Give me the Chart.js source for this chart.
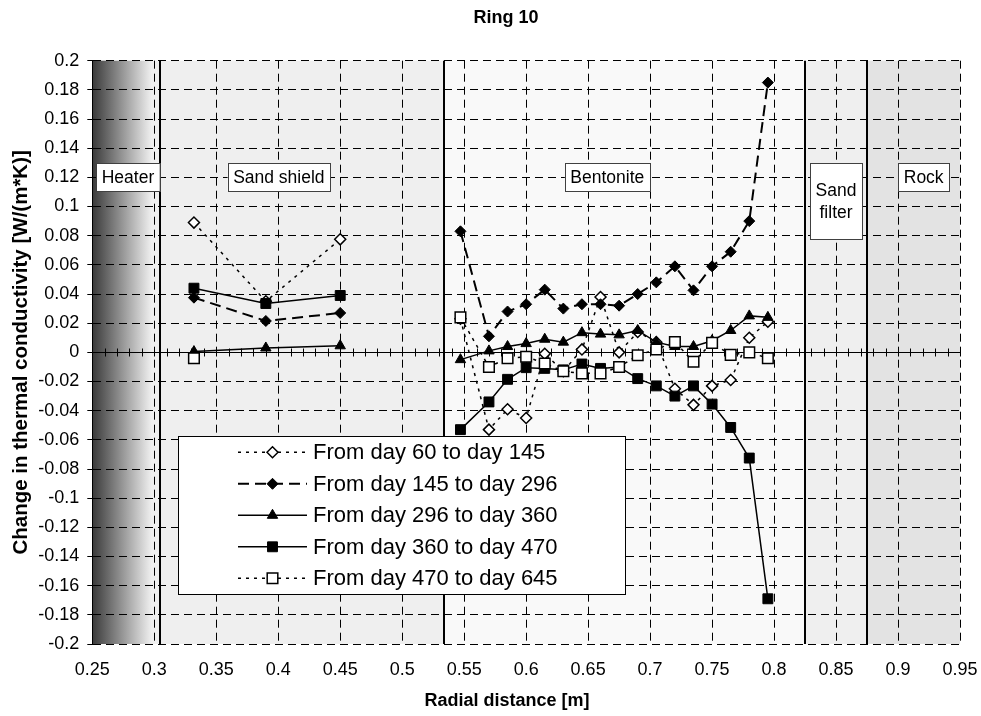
<!DOCTYPE html>
<html>
<head>
<meta charset="utf-8">
<title>Ring 10</title>
<script src="https://cdn.jsdelivr.net/npm/chart.js@4.4.1/dist/chart.umd.min.js"></script>
<style>
html,body{margin:0;padding:0;background:#ffffff;}
#wrap{width:981px;height:716px;}
canvas{display:block;}
</style>
</head>
<body>
<div id="wrap"><canvas id="chart" width="981" height="716"></canvas></div>
<script>
// ---------- Axis ticks ----------
const xTickValues = [0.25, 0.30, 0.35, 0.40, 0.45, 0.50, 0.55, 0.60, 0.65, 0.70, 0.75, 0.80, 0.85, 0.90, 0.95];
const xTickLabels = ['0.25', '0.3', '0.35', '0.4', '0.45', '0.5', '0.55', '0.6', '0.65', '0.7', '0.75', '0.8', '0.85', '0.9', '0.95'];
const yTickValues = [0.2, 0.18, 0.16, 0.14, 0.12, 0.1, 0.08, 0.06, 0.04, 0.02, 0, -0.02, -0.04, -0.06, -0.08, -0.1, -0.12, -0.14, -0.16, -0.18, -0.2];
const yTickLabels = ['0.2', '0.18', '0.16', '0.14', '0.12', '0.1', '0.08', '0.06', '0.04', '0.02', '0', '-0.02', '-0.04', '-0.06', '-0.08', '-0.1', '-0.12', '-0.14', '-0.16', '-0.18', '-0.2'];

// ---------- Titles ----------
const chartTitle = 'Ring 10';
const xAxisTitle = 'Radial distance [m]';
const yAxisTitle = 'Change in thermal conductivity [W/(m*K)]';

// ---------- Material zones (radial boundaries, m) ----------
const zoneNames = ['Heater', 'Sand shield', 'Bentonite', ['Sand', 'filter'], 'Rock'];
const zoneEdges = [0.25, 0.305, 0.534, 0.825, 0.875, 0.95];

// ---------- Measurement radii (m) ----------
const sandShieldX = [0.332, 0.39, 0.45];
const bentoniteX = [0.547, 0.57, 0.585, 0.60, 0.615, 0.63, 0.645, 0.66, 0.675, 0.69, 0.705, 0.72, 0.735, 0.75, 0.765, 0.78, 0.795];

// ---------- Series ----------
const seriesLabels = ['From day 60 to day 145', 'From day 145 to day 296', 'From day 296 to day 360', 'From day 360 to day 470', 'From day 470 to day 645'];

const day60to145Sand = [0.089, 0.035, 0.0775];
const day60to145Bentonite = [0.023, -0.053, -0.039, -0.045, -0.001, -0.013, 0.002, 0.038, 0.000, 0.014, 0.007, -0.025, -0.036, -0.023, -0.019, 0.010, 0.021];

const day145to296Sand = [0.0375, 0.0215, 0.027];
const day145to296Bentonite = [0.083, 0.011, 0.028, 0.033, 0.043, 0.030, 0.033, 0.033, 0.032, 0.040, 0.048, 0.059, 0.0425, 0.059, 0.069, 0.090, 0.185];

const day296to360Sand = [0.0005, 0.003, 0.0045];
const day296to360Bentonite = [-0.005, 0.001, 0.004, 0.006, 0.009, 0.007, 0.0135, 0.0125, 0.012, 0.015, 0.007, 0.004, 0.004, 0.008, 0.015, 0.025, 0.024];

const day360to470Sand = [0.044, 0.0335, 0.039];
const day360to470Bentonite = [-0.053, -0.034, -0.0185, -0.0105, -0.011, -0.012, -0.008, -0.011, -0.010, -0.018, -0.023, -0.030, -0.023, -0.0355, -0.0515, -0.0725, -0.169];

const day470to645Sand = [-0.004, null, null];
const day470to645Bentonite = [0.024, -0.010, -0.004, -0.003, -0.0076, -0.013, -0.0144, -0.0144, -0.010, -0.002, 0.002, 0.007, -0.0064, 0.0065, -0.0017, 0.000, -0.004];

function buildPoints(sandVals, bentVals) {
  const pts = sandShieldX.map((x, i) => ({x: x, y: sandVals[i]}));
  pts.push({x: (sandShieldX[sandShieldX.length - 1] + bentoniteX[0]) / 2, y: null}); // gap between materials
  bentoniteX.forEach((x, i) => pts.push({x: x, y: bentVals[i]}));
  return pts;
}

const FONT = '"Liberation Sans", Arial, Helvetica, sans-serif';

function drawMarker(ctx, style, r, x, y, fill, stroke, bw) {
  ctx.beginPath();
  if (style === 'rectRot') {
    ctx.moveTo(x - r, y); ctx.lineTo(x, y - r); ctx.lineTo(x + r, y); ctx.lineTo(x, y + r); ctx.closePath();
  } else if (style === 'rect') {
    const s = r * Math.SQRT1_2;
    ctx.rect(x - s, y - s, 2 * s, 2 * s);
  } else if (style === 'triangle') {
    let rad = 0;
    ctx.moveTo(x + Math.sin(rad) * r, y - Math.cos(rad) * r);
    rad += 2 * Math.PI / 3;
    ctx.lineTo(x + Math.sin(rad) * r, y - Math.cos(rad) * r);
    rad += 2 * Math.PI / 3;
    ctx.lineTo(x + Math.sin(rad) * r, y - Math.cos(rad) * r);
    ctx.closePath();
  } else {
    ctx.arc(x, y, r, 0, Math.PI * 2);
  }
  ctx.fillStyle = fill; ctx.fill();
  ctx.lineWidth = bw; ctx.strokeStyle = stroke; ctx.setLineDash([]); ctx.stroke();
}

// ---------- Plugins ----------
const zonePlugin = {
  id: 'zones',
  beforeDraw(chart, args, opts) {
    const {ctx, chartArea: a, scales: {x}} = chart;
    ctx.save();
    for (let i = 0; i < zoneNames.length; i++) {
      const x0 = x.getPixelForValue(zoneEdges[i]);
      const x1 = x.getPixelForValue(zoneEdges[i + 1]);
      let fill = opts.fills[i];
      if (fill === 'gradient') {
        const g = ctx.createLinearGradient(x0, 0, x.getPixelForValue(opts.gradientEnd), 0);
        g.addColorStop(0, opts.gradientFrom);
        g.addColorStop(1, opts.gradientTo);
        ctx.fillStyle = opts.gradientTo;
        ctx.fillRect(x0, a.top, x1 - x0, a.bottom - a.top);
        fill = g;
      }
      ctx.fillStyle = fill;
      ctx.fillRect(x0, a.top, x1 - x0, a.bottom - a.top);
    }
    ctx.restore();
  },
  beforeDatasetsDraw(chart, args, opts) {
    const {ctx, chartArea: a, scales: {x, y}} = chart;
    ctx.save();
    // zero axis with cross ticks
    const y0 = Math.round(y.getPixelForValue(0)) + 0.5;
    ctx.strokeStyle = '#000'; ctx.lineWidth = 1; ctx.setLineDash([]);
    ctx.beginPath(); ctx.moveTo(a.left, y0); ctx.lineTo(a.right, y0); ctx.stroke();
    ctx.beginPath();
    for (let k = 0; k <= 70; k++) {
      const v = x.min + k * opts.minorStep;
      const px = Math.round(x.getPixelForValue(v)) + 0.5;
      ctx.moveTo(px, y0 - opts.tickHalf); ctx.lineTo(px, y0 + opts.tickHalf);
    }
    ctx.stroke();
    // zone boundaries
    ctx.lineWidth = 2;
    for (let i = 1; i < zoneEdges.length - 1; i++) {
      const px = Math.round(x.getPixelForValue(zoneEdges[i]));
      ctx.beginPath(); ctx.moveTo(px, a.top); ctx.lineTo(px, a.bottom); ctx.stroke();
    }
    // zone labels
    ctx.font = opts.labelFont;
    ctx.textAlign = 'center'; ctx.textBaseline = 'middle';
    const top = y.getPixelForValue(opts.labelY) - 14;
    for (let i = 0; i < zoneNames.length; i++) {
      const lines = Array.isArray(zoneNames[i]) ? zoneNames[i] : [zoneNames[i]];
      const w = Math.max(...lines.map(t => ctx.measureText(t).width)) + 11;
      const h = lines.length > 1 ? 76 : 27.7;
      const cx = x.getPixelForValue(opts.labelX[i]);
      ctx.fillStyle = '#fff';
      ctx.fillRect(cx - w / 2, top, w, h);
      ctx.lineWidth = 1; ctx.strokeStyle = '#404040';
      ctx.strokeRect(Math.round(cx - w / 2) + 0.5, Math.round(top) + 0.5, Math.round(w), Math.round(h));
      ctx.fillStyle = '#000';
      lines.forEach((t, j) => {
        const cy = top + h / 2 + (j - (lines.length - 1) / 2) * 22;
        ctx.fillText(t, cx, cy + 1);
      });
    }
    ctx.restore();
  }
};

const legendPlugin = {
  id: 'refLegend',
  afterDatasetsDraw(chart, args, o) {
    const ctx = chart.ctx;
    ctx.save();
    ctx.fillStyle = '#fff';
    ctx.fillRect(o.left, o.top, o.width, o.height);
    ctx.strokeStyle = '#000'; ctx.lineWidth = 1; ctx.setLineDash([]);
    ctx.strokeRect(o.left + 0.5, o.top + 0.5, o.width, o.height);
    chart.data.datasets.forEach((ds, i) => {
      const yy = o.firstRowY + i * o.rowGap;
      ctx.strokeStyle = ds.borderColor; ctx.lineWidth = ds.borderWidth;
      ctx.setLineDash(ds.borderDash || []);
      ctx.beginPath(); ctx.moveTo(o.lineX0, yy); ctx.lineTo(o.lineX1, yy); ctx.stroke();
      drawMarker(ctx, ds.pointStyle, ds.pointRadius, (o.lineX0 + o.lineX1) / 2, yy,
        ds.pointBackgroundColor, ds.pointBorderColor, ds.pointBorderWidth);
      ctx.fillStyle = '#000'; ctx.font = o.font;
      ctx.textAlign = 'left'; ctx.textBaseline = 'middle';
      ctx.fillText(ds.label, o.textX, yy + 1);
    });
    ctx.restore();
  }
};

const titlesPlugin = {
  id: 'refTitles',
  afterDraw(chart, args, o) {
    const ctx = chart.ctx;
    ctx.save();
    ctx.font = o.font; ctx.fillStyle = '#000';
    ctx.textAlign = 'center'; ctx.textBaseline = 'middle';
    ctx.fillText(chartTitle, o.titleX, o.titleY);
    ctx.fillText(xAxisTitle, o.xTitleX, o.xTitleY);
    ctx.restore();
  }
};

// ---------- Datasets ----------
const datasets = [
  {label: seriesLabels[0], data: buildPoints(day60to145Sand, day60to145Bentonite),
   borderColor: '#000', borderWidth: 1.5, borderDash: [3, 5],
   pointStyle: 'rectRot', pointRadius: 5.5, pointBackgroundColor: '#fff', pointBorderColor: '#000', pointBorderWidth: 1.5, order: 5},
  {label: seriesLabels[1], data: buildPoints(day145to296Sand, day145to296Bentonite),
   borderColor: '#000', borderWidth: 2, borderDash: [11, 6],
   pointStyle: 'rectRot', pointRadius: 5.5, pointBackgroundColor: '#000', pointBorderColor: '#000', pointBorderWidth: 1, order: 4},
  {label: seriesLabels[2], data: buildPoints(day296to360Sand, day296to360Bentonite),
   borderColor: '#000', borderWidth: 1.5, borderDash: [],
   pointStyle: 'triangle', pointRadius: 6, pointBackgroundColor: '#000', pointBorderColor: '#000', pointBorderWidth: 1, order: 3},
  {label: seriesLabels[3], data: buildPoints(day360to470Sand, day360to470Bentonite),
   borderColor: '#000', borderWidth: 1.5, borderDash: [],
   pointStyle: 'rect', pointRadius: 7, pointBackgroundColor: '#000', pointBorderColor: '#000', pointBorderWidth: 1, order: 2},
  {label: seriesLabels[4], data: buildPoints(day470to645Sand, day470to645Bentonite),
   borderColor: '#000', borderWidth: 1.5, borderDash: [3, 5],
   pointStyle: 'rect', pointRadius: 7.5, pointBackgroundColor: '#fff', pointBorderColor: '#000', pointBorderWidth: 1.5, order: 1}
];
datasets.forEach(d => { d.showLine = true; d.spanGaps = false; d.fill = false; d.tension = 0; d.pointHoverRadius = d.pointRadius; });

function findLabel(values, labels, v) {
  for (let i = 0; i < values.length; i++) if (Math.abs(values[i] - v) < 1e-9) return labels[i];
  return '';
}

new Chart(document.getElementById('chart'), {
  type: 'scatter',
  data: {datasets: datasets},
  plugins: [zonePlugin, legendPlugin, titlesPlugin],
  options: {
    responsive: false,
    animation: false,
    events: [],
    layout: {padding: {left: 0, right: 21, top: 60.7, bottom: 0}},
    scales: {
      x: {
        type: 'linear', min: 0.25, max: 0.95,
        afterBuildTicks: s => { s.ticks = xTickValues.map(v => ({value: v})); },
        afterFit: s => { s.height = 72; s.paddingLeft = 0; s.paddingRight = 0; },
        ticks: {
          autoSkip: false, maxRotation: 0, padding: 15, color: '#000',
          font: {family: FONT, size: 18},
          callback: v => findLabel(xTickValues, xTickLabels, v)
        },
        grid: {color: '#000', lineWidth: 1, drawTicks: false},
        border: {display: false, dash: [8, 5]}
      },
      y: {
        type: 'linear', min: -0.2, max: 0.2,
        afterBuildTicks: s => { s.ticks = yTickValues.slice().reverse().map(v => ({value: v})); },
        afterFit: s => { s.width = 92.3; },
        ticks: {
          padding: 8, color: '#000',
          font: {family: FONT, size: 18},
          callback: v => findLabel(yTickValues, yTickLabels, v)
        },
        grid: {color: '#000', lineWidth: 1, drawTicks: true, tickLength: 5, tickColor: '#000'},
        border: {display: true, color: '#000', width: 1, dash: [8, 5]},
        title: {
          display: true, text: yAxisTitle, color: '#000',
          font: {family: FONT, size: 20.5, weight: 'bold'},
          padding: {top: 9.5, bottom: 0}
        }
      }
    },
    plugins: {
      legend: {display: false},
      tooltip: {enabled: false},
      title: {display: false},
      zones: {
        fills: ['gradient', '#efefef', '#f9f9f9', '#efefef', '#e3e3e3'],
        gradientFrom: '#3a3a3a', gradientTo: '#f0f0f0', gradientEnd: 0.298,
        minorStep: 0.01, tickHalf: 4,
        labelFont: '17.5px ' + FONT, labelY: 0.12,
        labelX: [0.2788, 0.4005, 0.6655, 0.85, 0.9207]
      },
      refLegend: {
        left: 178, top: 436, width: 447, height: 158,
        lineX0: 238, lineX1: 307, textX: 313, firstRowY: 452.3, rowGap: 31.5,
        font: '22px ' + FONT
      },
      refTitles: {font: 'bold 18px ' + FONT, titleX: 506, titleY: 18.3, xTitleX: 507, xTitleY: 701}
    }
  }
});
</script>
</body>
</html>
